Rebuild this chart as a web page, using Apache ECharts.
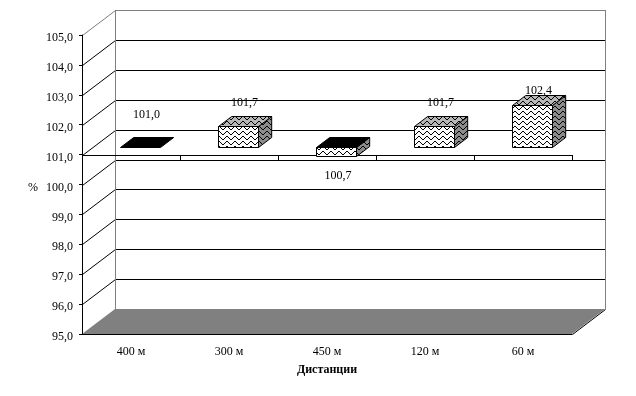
<!DOCTYPE html>
<html>
<head>
<meta charset="utf-8">
<style>html,body{margin:0;padding:0;background:#fff}#c{width:636px;height:396px}</style>
<script src="https://cdn.jsdelivr.net/npm/echarts@6/dist/echarts.min.js"></script>
</head>
<body>
<div id="c"></div>
<script>
const categories = ['400 м', '300 м', '450 м', '120 м', '60 м'];
const values = [101.0, 101.7, 100.7, 101.7, 102.4];
const yTicks = [96, 97, 98, 99, 100, 101, 102, 103, 104, 105];
const yMin = 95, yMax = 105, baseValue = 101;
const FONT = '"Liberation Serif","Times New Roman",serif';
const DX = 33, DY = -25;          // depth of the 3D box
const FRONT = 0.3, DEPTH = 0.4;   // share of the depth taken by the gap and the bar

function wave(bg) {
  const c = document.createElement('canvas');
  c.width = 8; c.height = 5;
  const g = c.getContext('2d');
  g.fillStyle = bg; g.fillRect(0, 0, 8, 5);
  g.fillStyle = '#000';
  [[0,3],[1,2],[2,1],[3,1],[4,2],[5,3],[6,4],[7,4]].forEach(p => g.fillRect(p[0], p[1], 1, 1));
  return c;
}
const frontFill = { image: wave('#ffffff'), repeat: 'repeat' };
const topFill = { image: wave('#b8b8b8'), repeat: 'repeat' };
const sideFill = { image: wave('#8c8c8c'), repeat: 'repeat' };
const px = v => Math.round(v) + 0.5;
const lineEl = (x1, y1, x2, y2, stroke) => ({
  type: 'line', shape: { x1, y1, x2, y2 }, style: { stroke, lineWidth: 1, fill: null }, silent: true
});

function renderWall(params, api) {
  const v = api.value(0);
  const p = api.coord([0, v]);
  const cs = params.coordSys;
  const left = cs.x, right = cs.x + cs.width;
  const y = Math.round(p[1]);
  const colour = v === yMax ? '#808080' : '#000';
  const kids = [
    lineEl(left + 0.5, y + 0.5, left + DX + 0.5, y + DY + 0.5, colour),
    lineEl(left + DX, y + DY + 0.5, right + DX, y + DY + 0.5, colour)
  ];
  if (v === yMax) {
    const floorY = Math.round(api.coord([0, yMin])[1]);
    kids.unshift(
      { type: 'polygon', shape: { points: [[left, floorY], [left + DX, floorY + DY], [right + DX, floorY + DY], [right, floorY]] },
        style: { fill: '#808080' } },
      lineEl(right + 0.5, floorY + 0.5, right + DX + 0.5, floorY + DY + 0.5, '#000'),
      lineEl(left + DX + 0.5, y + DY, left + DX + 0.5, floorY + DY, '#808080'),
      lineEl(right + DX + 0.5, y + DY, right + DX + 0.5, floorY + DY, '#808080')
    );
  }
  return { type: 'group', children: kids };
}

function renderPlane(params, api) {
  const i = api.value(0);
  const cs = params.coordSys;
  const y = Math.round(api.coord([0, baseValue])[1]);
  const band = api.size([1, 0])[0];
  const kids = [lineEl(cs.x + i * band, y + 0.5, cs.x + (i + 1) * band, y + 0.5, '#000')];
  const tx = px(cs.x + (i + 1) * band);
  kids.push(lineEl(tx, y, tx, y + 5, '#000'));
  return { type: 'group', children: kids };
}

function renderBar(params, api) {
  const i = api.value(0), v = api.value(1);
  const band = api.size([1, 0])[0];
  const c = api.coord([i, v]);
  const b = api.coord([i, baseValue]);
  const w = band * 0.408;
  const sx = DX * FRONT, sy = DY * FRONT;
  const dx = DX * DEPTH, dy = DY * DEPTH;
  const x0 = Math.round(c[0] + sx - w / 2 - 0.5), x1 = x0 + Math.round(w);
  const yV = Math.round(c[1] + sy), yB = Math.round(b[1] + sy);
  const top = Math.min(yV, yB), bot = Math.max(yV, yB);
  const neg = v < baseValue, flat = v === baseValue;
  const edge = { stroke: '#000', lineWidth: 1 };
  const kids = [];
  if (!flat) {
    kids.push({ type: 'polygon', shape: { points: [[x1 + .5, top + .5], [x1 + dx + .5, top + dy + .5], [x1 + dx + .5, bot + dy + .5], [x1 + .5, bot + .5]] },
      style: Object.assign({ fill: sideFill }, edge) });
  }
  kids.push({ type: 'polygon', shape: { points: [[x0 + .5, top + .5], [x0 + dx + .5, top + dy + .5], [x1 + dx + .5, top + dy + .5], [x1 + .5, top + .5]] },
    style: Object.assign({ fill: (neg || flat) ? '#000' : topFill }, edge) });
  if (!flat) {
    kids.push({ type: 'rect', shape: { x: x0 + .5, y: top + .5, width: x1 - x0, height: bot - top },
      style: Object.assign({ fill: frontFill }, edge) });
  }
  const h = bot - top;
  const ly = neg ? bot + 20 : top - 32 + h * 0.43;
  kids.push({ type: 'text', style: {
    text: v.toFixed(1).replace('.', ','), x: x0 + (neg ? 22 : 26.5), y: ly,
    align: 'center', verticalAlign: 'middle', font: '12px ' + FONT, fill: '#000' } });
  return { type: 'group', children: kids };
}

const chart = echarts.init(document.getElementById('c'), null, { renderer: 'canvas' });
chart.setOption({
  animation: false,
  backgroundColor: '#fff',
  grid: { left: 82, top: 35, width: 490, height: 299, containLabel: false },
  xAxis: {
    type: 'category', data: categories, z: 6,
    name: 'Дистанции', nameLocation: 'middle', nameGap: 30,
    nameTextStyle: { fontFamily: FONT, fontSize: 12, fontWeight: 'bold', color: '#000' },
    axisLine: { onZero: false, lineStyle: { color: '#000', width: 1 } },
    axisTick: { alignWithLabel: false, length: 5, lineStyle: { color: '#000' } },
    axisLabel: { interval: 0, margin: 12, fontFamily: FONT, fontSize: 12, color: '#000' },
    splitLine: { show: false }
  },
  yAxis: {
    type: 'value', min: yMin, max: yMax, interval: 1, z: 6,
    name: '%', nameLocation: 'middle', nameRotate: 0, nameGap: 44,
    nameTextStyle: { fontFamily: FONT, fontSize: 12, color: '#000', verticalAlign: 'top', lineHeight: 6 },
    axisLine: { show: true, lineStyle: { color: '#000', width: 1 } },
    axisTick: { show: true, length: 3, lineStyle: { color: '#000' } },
    axisLabel: { margin: 9, fontFamily: FONT, fontSize: 12, color: '#000', verticalAlign: 'top', lineHeight: 6,
      formatter: v => v.toFixed(1).replace('.', ',') },
    splitLine: { show: false }
  },
  series: [
    { type: 'custom', z: 1, clip: false, renderItem: renderWall, encode: { y: 0 },
      data: yTicks.map(t => [t]), coordinateSystem: 'cartesian2d' },
    { type: 'custom', z: 2, clip: false, renderItem: renderPlane, encode: { x: 0 },
      data: categories.map((_, i) => [i]), coordinateSystem: 'cartesian2d' },
    { type: 'custom', z: 3, clip: false, renderItem: renderBar, encode: { x: 0, y: 1 },
      data: values.map((v, i) => [i, v]), coordinateSystem: 'cartesian2d' }
  ]
});
</script>
</body>
</html>
